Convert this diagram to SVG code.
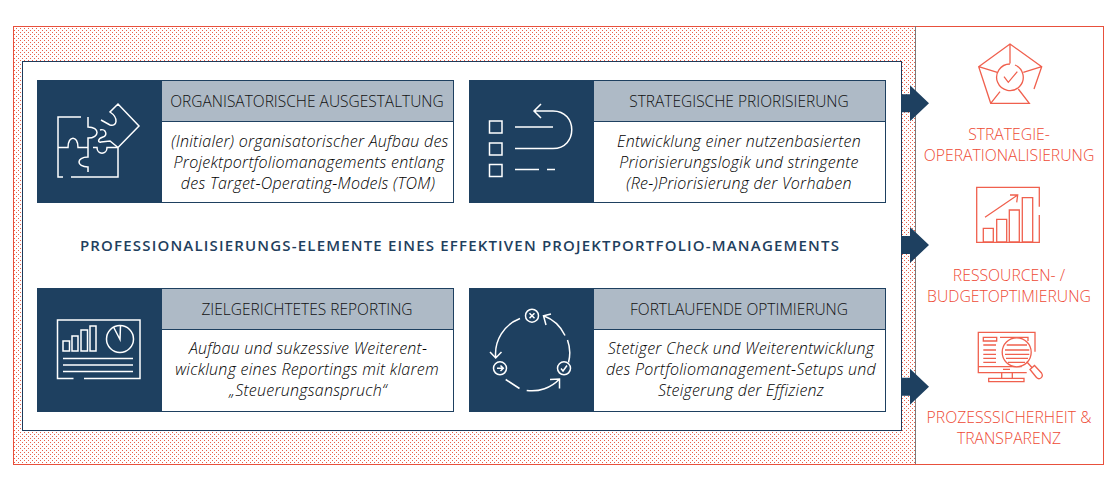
<svg xmlns="http://www.w3.org/2000/svg" width="1119" height="495" viewBox="0 0 1119 495">
<style>
text{font-family:"Open Sans","Noto Sans","Liberation Sans",sans-serif}
.h{font-size:15.5px;font-weight:300;fill:#111;text-anchor:middle}
.b{font-size:16px;font-weight:300;font-style:italic;fill:#000;text-anchor:middle;letter-spacing:.25px}
.o{font-size:15.75px;font-weight:300;fill:#ee4a35;text-anchor:middle}
.t{font-size:15px;font-weight:600;fill:#1f3f5e;text-anchor:middle;letter-spacing:1.18px}
.dark{fill:#1e4060}
.grey{fill:#aebac6;stroke:#1e4060}
.white{fill:#fff;stroke:#1e4060}
.ic{fill:none;stroke:#fff;stroke-width:1.5}
.oc{fill:none;stroke:#f0604e;stroke-width:1.3}
</style>
<defs><pattern id="dots" width="4" height="4" patternUnits="userSpaceOnUse"><rect width="4" height="4" fill="#fff"/><rect x="0" y="0" width="1" height="1" fill="#e8604c"/><rect x="2" y="2" width="1" height="1" fill="#e8604c"/></pattern>
<path id="arrow" d="M901 -9H910V-18L929 0L910 18V9H901Z" fill="#1e4060"/>
</defs>
<g id="frame"><rect x="13.500" y="26.500" width="902" height="438" fill="url(#dots)"/><rect x="13.500" y="26.500" width="1090" height="438" fill="none" stroke="#e8503c"/><line x1="915.500" y1="26" x2="915.500" y2="464" stroke="#7b7b7b"/></g>
<g id="panel"><rect x="22.500" y="61.500" width="879" height="369" fill="#fff" stroke="#1e3a5a" stroke-width="1"/>
<text class="t" x="460" y="250.500">PROFESSIONALISIERUNGS-ELEMENTE EINES EFFEKTIVEN PROJEKTPORTFOLIO-MANAGEMENTS</text></g>
<g id="connectors"><use href="#arrow" y="103.300"/><use href="#arrow" y="245"/><use href="#arrow" y="386.700"/></g>
<g id="card1"><rect class="dark" x="37" y="80" width="125" height="123"/><rect class="white" x="161.500" y="80.500" width="292" height="122"/><rect class="grey" x="161.500" y="80.500" width="292" height="41"/>
<path class="ic" d="M81 117H58V177H63M71 177H118V147.500H107C107 155 97 155 97 147.500H93M88 117V127C100 127 100 138 88 138V157C76 157 76 167 88 167V172M58 147.500H68C68 135 78 135 78 147.500H88M118 147.500L139 126L118 104L110 112C119 118 117 127 110 125L101 120M100 130C106 128 108 136 103 137C97 139 98 143 101 142L110 141L118 147.500"/>
<text class="h" x="307" y="107">ORGANISATORISCHE AUSGESTALTUNG</text>
<text class="b" x="310" y="146.500">(Initialer) organisatorischer Aufbau des</text>
<text class="b" x="309" y="167.500">Projektportfoliomanagements entlang</text>
<text class="b" x="308" y="188.500">des Target-Operating-Models (TOM)</text></g>
<g id="card2"><rect class="dark" x="469" y="80" width="125" height="123"/><rect class="white" x="593.500" y="80.500" width="292" height="122"/><rect class="grey" x="593.500" y="80.500" width="292" height="41"/>
<path class="ic" d="M489.500 121H502V133H489.500ZM489.500 143H502V155H489.500ZM489.500 164.500H502V176.500H489.500ZM515 127H553M515 148.500H553C578 148.500 578 111 553 111H534M541 104L534 111L541 118M515 169.500H539M547 169.500H555"/>
<text class="h" x="739" y="107">STRATEGISCHE PRIORISIERUNG</text>
<text class="b" x="739" y="146.500">Entwicklung einer nutzenbasierten</text>
<text class="b" x="739" y="167.500">Priorisierungslogik und stringente</text>
<text class="b" x="739" y="188.500">(Re-)Priorisierung der Vorhaben</text></g>
<g id="card3"><rect class="dark" x="37" y="288" width="125" height="124"/><rect class="white" x="161.500" y="288.500" width="292" height="123"/><rect class="grey" x="161.500" y="288.500" width="292" height="41"/>
<path class="ic" d="M73.500 378.500H57.500V320H140V378.500H84M63 341H69.500V351H63ZM72 336H78V351H72ZM81 330H87.500V351H81ZM90 326H96V351H90ZM63 358.500H133M63 365H133M63 371.500H133"/>
<circle class="ic" cx="120" cy="339" r="13.500"/><path class="ic" d="M113.500 327L120 339.500L120.500 325.500"/>
<text class="h" x="307" y="315">ZIELGERICHTETES REPORTING</text>
<text class="b" x="308" y="354">Aufbau und sukzessive Weiterent-</text>
<text class="b" x="307" y="375">wicklung eines Reportings mit klarem</text>
<text class="b" x="308" y="396">„Steuerungsanspruch“</text></g>
<g id="card4"><rect class="dark" x="469" y="288" width="125" height="124"/><rect class="white" x="593.500" y="288.500" width="292" height="123"/><rect class="grey" x="593.500" y="288.500" width="292" height="41"/>
<circle class="ic" cx="532" cy="315.700" r="6.500"/><circle class="ic" cx="500" cy="368.300" r="6.500"/><circle class="ic" cx="564" cy="368.300" r="6.500"/>
<path class="ic" d="M529.500 313.200L534.500 318.200M534.500 313.200L529.500 318.200M497 368.300H503M500.500 365.500L503.300 368.300L500.500 371M561 368.500L563 371L567 365.500M520 318.500A38 38 0 0 0 495.700 357.500M490 352L495.700 358L501.500 352M505.700 379.500L519.500 388.500M526.700 390.500A38 38 0 0 0 559.500 379M550 379.500L559.500 379L559.500 388.500M568.500 362.500A38 38 0 0 0 567.500 340M565 335.500A38 38 0 0 0 543.500 315.700M551 314L543.500 315.700L546 325"/>
<text class="h" x="739" y="315">FORTLAUFENDE OPTIMIERUNG</text>
<text class="b" x="741" y="354">Stetiger Check und Weiterentwicklung</text>
<text class="b" x="741" y="375">des Portfoliomanagement-Setups und</text>
<text class="b" x="741" y="396">Steigerung der Effizienz</text></g>
<g id="out1"><path class="oc" d="M1034 89L1041.700 66.700L1010 44L978.700 66.700L990.700 103.300H1029.300L1018.300 89M990.700 103.300L1000 91.700M1010 44V63.500M978.700 66.700L997.300 72.300M1041.700 66.700L1023.300 72.300"/><path class="oc" d="M1015 65A13.300 13.300 0 1 1 1010 64"/><path class="oc" d="M1004 76.700L1008.300 82.300L1017.300 71.700"/>
<text class="o" x="1009" y="140">STRATEGIE-</text><text class="o" x="1009" y="161">OPERATIONALISIERUNG</text></g>
<g id="out2"><path class="oc" d="M1039.300 215V242.300H976.700V187.300H1039.300V206.700M985 217.300L1017.700 195M1010 195H1017.700L1016.700 202.300M983.300 228.300H993.300V242H983.300ZM996.700 219.300H1006.700V242H996.700ZM1009.300 210H1019.300V242H1009.300ZM1022.300 197.700H1032.700V242H1022.300Z"/>
<text class="o" x="1009" y="281">RESSOURCEN- /</text><text class="o" x="1009" y="302">BUDGETOPTIMIERUNG</text></g>
<g id="out3"><path class="oc" d="M1035 351.700V332.300H978.300V372.700H1026.700M978.300 366.700H1021.700M1001.700 372.700V378.300M1012.300 372.700V378.300M988.700 378.300H1024V381.700H988.700ZM1003 369.300H1010M983.300 337.300H996.700V341H983.300ZM1000 337.300H1028V341M983.300 345H996M983.300 350H996M983.300 354.300H996M983.300 358.300H996M983.300 362.300H996"/><circle cx="1016.700" cy="352.300" r="14.500" fill="#fff" stroke="#f0604e" stroke-width="1.300"/><path class="oc" d="M1006.700 345H1027M1005 350H1029.300M1005 354.300H1029.300M1006 358.300H1028M1008 362.300H1025M1026.700 361.700L1031.700 367.300M1030 369.500L1034.500 365.500L1041.500 373C1044 377 1039.500 380.500 1036.500 377.500Z"/>
<text class="o" x="1009" y="423">PROZESSSICHERHEIT &amp;</text><text class="o" x="1009" y="444">TRANSPARENZ</text></g>
</svg>
